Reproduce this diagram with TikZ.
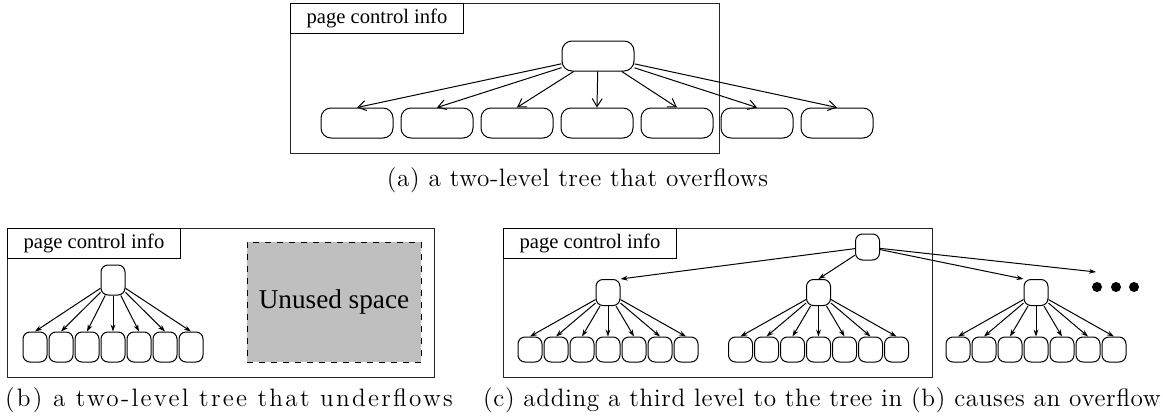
\documentclass[tikz,border=0pt]{standalone}
\usepackage{fontspec}
\newfontfamily\figfont{Liberation Serif}
\newfontfamily\capfont{Latin Modern Roman}[LetterSpace=2.5]
\newfontfamily\capwidefont{Latin Modern Roman}[LetterSpace=9]
\usetikzlibrary{arrows.meta, positioning}

\begin{document}
\begin{tikzpicture}[x=0.5pt, y=-0.5pt, line width=0.5pt,
  every node/.style={inner sep=0pt},
  pagebox/.style={draw=black!85, line width=0.5pt},
  infolabel/.style={draw, line width=0.5pt, anchor=north west, minimum width=86.5pt, minimum height=15pt, font=\figfont\fontsize{10.3}{12}\selectfont},
  widebox/.style={draw, rounded corners=5pt, minimum width=36pt, minimum height=15pt},
  tallbox/.style={draw, rounded corners=3.5pt, minimum width=12pt, minimum height=15pt},
  midbox/.style={draw, rounded corners=3.5pt, minimum width=12pt, minimum height=13pt},
  leafbox/.style={draw, rounded corners=3.5pt, minimum width=12pt, minimum height=12.5pt},
  barb/.style={-{Straight Barb[length=4pt, width=5pt]}},
  ptr/.style={-{Stealth[length=3.5pt, width=2.4pt]}},
  caption/.style={anchor=base, font=\capfont\fontsize{12.6}{15}\selectfont}
]
\useasboundingbox (0,0) rectangle (1163,418);

% (a) two-level tree that overflows
\draw[pagebox] (290,3) rectangle (719,153);
\node[infolabel] (infoa) at (290,3) {page control info};
\node[widebox] (aroot) at (598,56) {};
\foreach \i in {1,...,7} {
  \node[widebox] (a\i) at ({277+80*\i},123) {};
  \draw[barb] (aroot) -- (a\i.north);
}
\node[caption] (capa) at (577.5,186) {(a) a two-level tree that overflows};

% (b) two-level tree that underflows
\draw[pagebox] (7,228) rectangle (434,377);
\node[infolabel] (infob) at (7,228) {page control info};
\node[tallbox] (broot) at (113,280) {};
\foreach \i in {1,...,7} {
  \node[tallbox] (b\i) at ({9+26*\i},347) {};
  \draw[ptr] (broot) -- (b\i.north);
}
\node[draw, dashed, fill=black!25, minimum width=87pt, minimum height=60pt,
  font=\figfont\fontsize{13.6}{16}\selectfont] (unused) at (334,302) {Unused space};
\node[caption, font=\capwidefont\fontsize{12.6}{15}\selectfont] (capb) at (229,406) {(b) a two-level tree that underflows};

% (c) adding a third level
\draw[pagebox] (503,228) rectangle (932,377);
\node[infolabel] (infoc) at (503,228) {page control info};
\node[midbox] (croot) at (867.5,247) {};
\foreach \m/\cx in {1/608, 2/818.5, 3/1036} {
  \node[midbox] (m\m) at (\cx,292.5) {};
  \foreach \i in {1,...,7} {
    \node[leafbox] (c\m\i) at ({\cx-104+26*\i},349.5) {};
    \draw[ptr] (m\m) -- (c\m\i.north);
  }
}
\coordinate (more) at (1096,272);
\draw[ptr] (croot) -- (m1.north east);
\draw[ptr] (croot) -- (m2.north);
\draw[ptr] (croot) -- (m3.north west);
\draw[ptr] (croot) -- (more);
\foreach \d/\dx in {1/1097, 2/1116, 3/1134}
  \node[circle, fill, minimum size=5pt] (dot\d) at (\dx,287) {};
\node[caption] (capc) at (822,406) {(c) adding a third level to the tree in (b) causes an overflow};
\end{tikzpicture}
\end{document}
